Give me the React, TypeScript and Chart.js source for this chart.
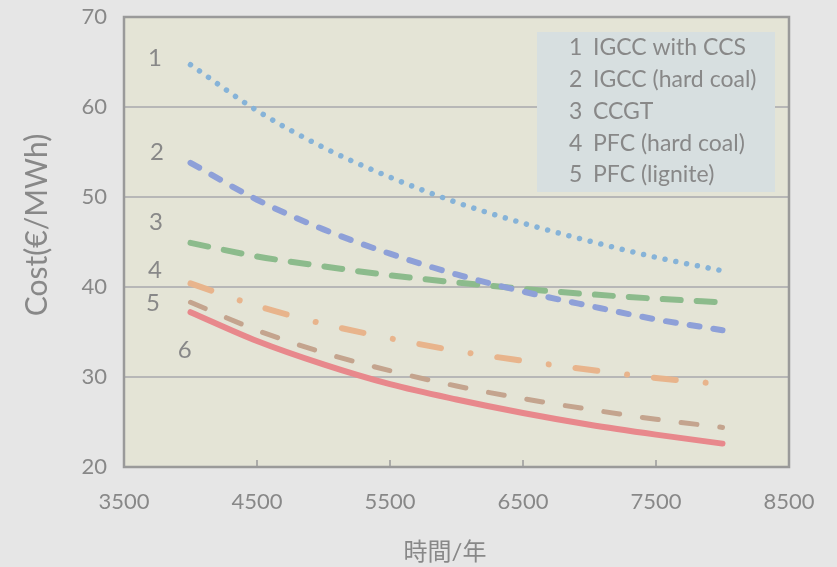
import { useEffect, useRef } from 'react';
import { Chart, registerables } from 'chart.js';

Chart.register(...registerables);

// ---- data ----
const hours = [4000, 4500, 5000, 5500, 6000, 6500, 7000, 7500, 8000];
const igccCcs = [64.7, 59.6, 55.5, 52.2, 49.4, 47.1, 45.1, 43.3, 41.8];
const igccHardCoal = [53.8, 49.7, 46.4, 43.7, 41.4, 39.5, 37.9, 36.4, 35.2];
const ccgt = [44.9, 43.4, 42.3, 41.3, 40.5, 39.8, 39.2, 38.7, 38.3];
const pfcHardCoal = [40.4, 37.9, 35.9, 34.3, 32.9, 31.8, 30.8, 29.9, 29.2];
const pfcLignite = [38.3, 35.2, 32.7, 30.7, 29.0, 27.6, 26.4, 25.3, 24.4];
const series6 = [37.2, 34.0, 31.4, 29.2, 27.5, 26.0, 24.7, 23.6, 22.6];

const xTicks = [3500, 4500, 5500, 6500, 7500, 8500];
const yTicks = [20, 30, 40, 50, 60, 70];

const legendNums = ['1', '2', '3', '4', '5'];
const legendNames = ['IGCC with CCS', 'IGCC (hard coal)', 'CCGT', 'PFC (hard coal)', 'PFC (lignite)'];

const curveTags = ['1', '2', '3', '4', '5', '6'];
const tagHours = [3732, 3747, 3740, 3732, 3717, 3957];
const tagCosts = [65.4, 55.0, 47.2, 41.9, 38.2, 33.0];

const xTitle = '時間/年';
const yTitle = 'Cost(€/MWh)';

// ---- styles ----
const PAGE_BG = '#e6e6e6';
const PLOT_BG = '#e4e4d6';
const LEGEND_BG = '#d7dfe0';
const TEXT = '#888888';
const GRID = '#b7b7b7';
const FRAME = '#9a9a9a';
const FONT = 'Lato, "Noto Sans", sans-serif';

const pts = (ys: number[]) => hours.map((h, i) => ({ x: h, y: ys[i] }));

const decor = {
  id: 'decor',
  beforeDraw(chart: any) {
    const { ctx, chartArea: a } = chart;
    ctx.save();
    ctx.fillStyle = PAGE_BG;
    ctx.fillRect(0, 0, chart.width, chart.height);
    ctx.fillStyle = PLOT_BG;
    ctx.fillRect(a.left, a.top, a.right - a.left, a.bottom - a.top);
    ctx.restore();
  },
  afterDraw(chart: any) {
    const { ctx, chartArea: a, scales } = chart;
    const xs = scales.x;
    const ys = scales.y;
    ctx.save();
    ctx.strokeStyle = FRAME;
    ctx.lineWidth = 2.5;
    ctx.strokeRect(a.left, a.top, a.right - a.left, a.bottom - a.top);
    ctx.lineWidth = 1.5;
    xTicks.forEach((t) => {
      const px = xs.getPixelForValue(t);
      ctx.beginPath();
      ctx.moveTo(px, a.bottom);
      ctx.lineTo(px, a.bottom - 7);
      ctx.stroke();
    });
    ctx.fillStyle = TEXT;
    ctx.font = '24px ' + FONT;
    ctx.textAlign = 'center';
    ctx.textBaseline = 'middle';
    curveTags.forEach((t, i) => {
      ctx.fillText(t, xs.getPixelForValue(tagHours[i]), ys.getPixelForValue(tagCosts[i]));
    });
    ctx.fillStyle = LEGEND_BG;
    ctx.fillRect(537, 32, 238, 160);
    ctx.fillStyle = TEXT;
    ctx.font = '23px ' + FONT;
    ctx.textAlign = 'left';
    legendNums.forEach((n, i) => {
      const y = 48 + i * 31.7;
      ctx.fillText(n, 569, y);
      ctx.fillText(legendNames[i], 593, y);
    });
    ctx.font = '24px ' + FONT + ', "Noto Sans CJK JP"';
    ctx.textAlign = 'center';
    ctx.fillText(xTitle, 445, 552);
    ctx.save();
    ctx.translate(37, 225);
    ctx.rotate(-Math.PI / 2);
    ctx.font = '30px ' + FONT;
    ctx.fillText(yTitle, 0, 0);
    ctx.restore();
    ctx.restore();
  },
};

const base = {
  fill: false,
  pointRadius: 0,
  pointHoverRadius: 0,
  cubicInterpolationMode: 'monotone' as const,
  borderCapStyle: 'round' as const,
  borderJoinStyle: 'round' as const,
};

export default function App() {
  const ref = useRef<HTMLCanvasElement | null>(null);
  useEffect(() => {
    document.body.style.margin = '0';
    document.body.style.background = PAGE_BG;
    const canvas = ref.current!;
    const chart = new Chart(canvas, {
      type: 'line',
      data: {
        datasets: [
          { ...base, label: legendNames[0], data: pts(igccCcs), borderColor: '#86b3d8', borderWidth: 5.5, borderDash: [0.001, 11] },
          { ...base, label: legendNames[1], data: pts(igccHardCoal), borderColor: '#8ea0d8', borderWidth: 6, borderDash: [10, 14] },
          { ...base, label: legendNames[2], data: pts(ccgt), borderColor: '#8cbb8c', borderWidth: 6, borderDash: [18, 16] },
          { ...base, label: legendNames[3], data: pts(pfcHardCoal), borderColor: '#e8b48c', borderWidth: 6, borderDash: [22, 30, 0.001, 27] },
          { ...base, label: legendNames[4], data: pts(pfcLignite), borderColor: '#c4a48e', borderWidth: 5, borderDash: [16, 23] },
          { ...base, label: '6', data: pts(series6), borderColor: '#e8888c', borderWidth: 6 },
        ],
      },
      options: {
        animation: false,
        responsive: false,
        devicePixelRatio: 1,
        layout: { padding: { left: 0, right: 48, top: 17, bottom: 0 } },
        plugins: { legend: { display: false }, tooltip: { enabled: false } },
        scales: {
          x: {
            type: 'linear',
            min: 3500,
            max: 8500,
            afterBuildTicks: (s: any) => { s.ticks = xTicks.map((v) => ({ value: v })); },
            afterFit: (s: any) => { s.height = 100; s.paddingLeft = 0; s.paddingRight = 0; },
            grid: { display: false, drawTicks: false },
            border: { display: false },
            ticks: { color: TEXT, font: { family: FONT, size: 22 }, padding: 22, maxRotation: 0, autoSkip: false, callback: (v: any) => String(v) },
          },
          y: {
            type: 'linear',
            min: 20,
            max: 70,
            afterBuildTicks: (s: any) => { s.ticks = yTicks.map((v) => ({ value: v })); },
            afterFit: (s: any) => { s.width = 124; s.paddingTop = 0; s.paddingBottom = 0; },
            grid: { color: GRID, lineWidth: 2, drawTicks: false },
            border: { display: false },
            ticks: { color: TEXT, font: { family: FONT, size: 22 }, padding: 17, callback: (v: any) => String(v) },
          },
        },
      },
      plugins: [decor],
    } as any);
    return () => chart.destroy();
  }, []);
  return (
    <div style={{ width: 837, height: 567 }}>
      <canvas ref={ref} width={837} height={567} style={{ display: 'block' }} />
    </div>
  );
}
